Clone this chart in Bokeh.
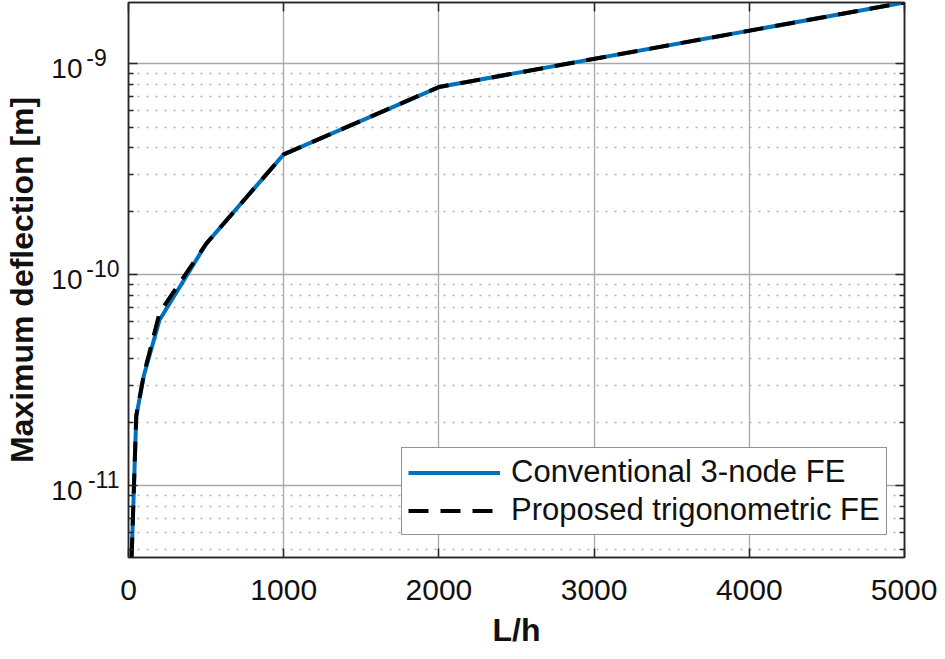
import math
from bokeh.plotting import figure
from bokeh.models import (Range1d, FixedTicker, LinearAxis, LogAxis, LogScale, Legend,
                          LegendItem, CustomJSTickFormatter)
from bokeh.embed import file_html
from bokeh.resources import INLINE

# ---- data ----
lh = [20, 50, 100, 200, 500, 1000, 2000, 5000]
conventional = [4.57e-12, 2.13e-11, 3.35e-11, 6.1e-11, 1.40e-10, 3.72e-10, 7.75e-10, 1.95e-9]
proposed = [4.57e-12, 2.15e-11, 3.4e-11, 6.6e-11, 1.40e-10, 3.72e-10, 7.75e-10, 1.95e-9]
x_ticks = [0, 1000, 2000, 3000, 4000, 5000]
y_exponents = [-11, -10, -9]
series_labels = ["Conventional 3-node FE", "Proposed trigonometric FE"]
x_title = "L/h"
y_title = "Maximum deflection [m]"

FONT = "Liberation Sans"
TXT = "#111111"
AX = "#262626"
BLUE = "#0072BD"

W, H_FIG = 937, 651
B_LEFT, B_RIGHT, B_TOP, B_BOTTOM = 128, 33, 2, 94

y_major = [10.0 ** e for e in y_exponents]
y_minor = [m * 10.0 ** e for e in [y_exponents[0] - 1] + y_exponents for m in range(2, 10)]
y0, y1 = min(conventional), max(conventional)

p = figure(width=W, height=H_FIG, output_backend="svg", toolbar_location=None,
           y_axis_type="log",
           x_range=Range1d(x_ticks[0], x_ticks[-1]),
           y_range=Range1d(y0, y1),
           min_border_left=B_LEFT, min_border_right=B_RIGHT,
           min_border_top=B_TOP, min_border_bottom=B_BOTTOM)
p.background_fill_color = "white"
p.border_fill_color = "white"
p.outline_line_color = AX
p.outline_line_width = 1.5

blank = CustomJSTickFormatter(code="return '';")

# pixel offsets for the "10" base and the superscript exponent (tick labels 10^e)
frame_h = H_FIG - B_TOP - B_BOTTOM
px_per_decade = frame_h / math.log10(y1 / y0)
k_sup = 10 ** (6.0 / px_per_decade)    # exponent raised ~6 px
k_base = 10 ** (5.0 / px_per_decade)   # base lowered ~5 px
p.extra_y_ranges = {"sup": Range1d(y0 / k_sup, y1 / k_sup),
                    "base": Range1d(y0 * k_base, y1 * k_base)}
p.extra_y_scales = {"sup": LogScale(), "base": LogScale()}

# x axis (bottom)
xa = p.xaxis[0]
xa.ticker = FixedTicker(ticks=x_ticks, minor_ticks=[])
xa.axis_label = x_title
xa.axis_label_text_font = FONT
xa.axis_label_text_font_style = "bold"
xa.axis_label_text_font_size = "32px"
xa.axis_label_text_color = TXT
xa.axis_label_standoff = 9
xa.major_label_text_font = FONT
xa.major_label_text_font_size = "30px"
xa.major_label_text_color = TXT
xa.major_label_standoff = 22

# y axis (left, ticks only)
ya = p.yaxis[0]
ya.ticker = FixedTicker(ticks=y_major, minor_ticks=y_minor)
ya.formatter = blank
ya.major_label_standoff = 0

for ax in (xa, ya):
    ax.axis_line_color = AX
    ax.axis_line_width = 1.5
    ax.major_tick_line_color = AX
    ax.major_tick_line_width = 1.5
    ax.minor_tick_line_color = AX
    ax.minor_tick_line_width = 1.5
    ax.major_tick_in = 9
    ax.major_tick_out = 0
    ax.minor_tick_in = 5
    ax.minor_tick_out = 0

# exponent labels (nearest the frame) and base "10" labels (outside them)
sup_fmt = CustomJSTickFormatter(code="""
const s = String(Math.round(Math.log10(tick)));
return s.length < 3 ? s + "\\u2007" : s;
""")
sup_axis = LogAxis(y_range_name="sup", ticker=FixedTicker(ticks=y_major, minor_ticks=[]),
                   formatter=sup_fmt, axis_line_color=None,
                   major_tick_line_color=None, minor_tick_line_color=None,
                   major_tick_in=0, major_tick_out=0, minor_tick_in=0, minor_tick_out=0,
                   major_label_standoff=9, major_label_text_font=FONT,
                   major_label_text_font_size="23px", major_label_text_color=TXT)
base_axis = LogAxis(y_range_name="base", ticker=FixedTicker(ticks=y_major, minor_ticks=[]),
                    formatter=CustomJSTickFormatter(code="return '10';"), axis_line_color=None,
                    major_tick_line_color=None, minor_tick_line_color=None,
                    major_tick_in=0, major_tick_out=0, minor_tick_in=0, minor_tick_out=0,
                    major_label_standoff=1, major_label_text_font=FONT,
                    major_label_text_font_size="28px", major_label_text_color=TXT,
                    axis_label=y_title, axis_label_text_font=FONT,
                    axis_label_text_font_style="bold", axis_label_text_font_size="32px",
                    axis_label_text_color=TXT, axis_label_standoff=8)
p.add_layout(sup_axis, "left")
p.add_layout(base_axis, "left")

# box axes (top / right) with inward ticks only
top = LinearAxis(ticker=FixedTicker(ticks=x_ticks, minor_ticks=[]), formatter=blank,
                 major_label_standoff=0, major_tick_in=9, major_tick_out=0,
                 axis_line_color=AX, axis_line_width=1.5,
                 major_tick_line_color=AX, major_tick_line_width=1.5,
                 minor_tick_line_color=None)
right = LogAxis(ticker=FixedTicker(ticks=y_major, minor_ticks=y_minor), formatter=blank,
                major_label_standoff=0, major_tick_in=9, major_tick_out=0,
                minor_tick_in=5, minor_tick_out=0,
                axis_line_color=AX, axis_line_width=1.5,
                major_tick_line_color=AX, major_tick_line_width=1.5,
                minor_tick_line_color=AX, minor_tick_line_width=1.5)
p.add_layout(top, "above")
p.add_layout(right, "right")

# grids
p.xgrid.grid_line_color = "#a8a8a8"
p.xgrid.grid_line_width = 1.3
p.ygrid.grid_line_color = "#a8a8a8"
p.ygrid.grid_line_width = 1.3
p.ygrid.minor_grid_line_color = "#b0b0b0"
p.ygrid.minor_grid_line_width = 1.5
p.ygrid.minor_grid_line_dash = "2 7"

# series
r1 = p.line(lh, conventional, line_color=BLUE, line_width=4)
r2 = p.line(lh, proposed, line_color="black", line_width=4, line_dash="20 12")

legend = Legend(items=[LegendItem(label=series_labels[0], renderers=[r1]),
                       LegendItem(label=series_labels[1], renderers=[r2])],
                location=(273, 22), margin=0, padding=6, spacing=2,
                glyph_width=92, glyph_height=33, label_height=33, label_standoff=11,
                label_text_font=FONT, label_text_font_size="31px", label_text_color=TXT,
                border_line_color=AX, border_line_width=1.5,
                background_fill_color="white", background_fill_alpha=1.0)
p.add_layout(legend)

open("out.html", "w").write(file_html(p, INLINE))
